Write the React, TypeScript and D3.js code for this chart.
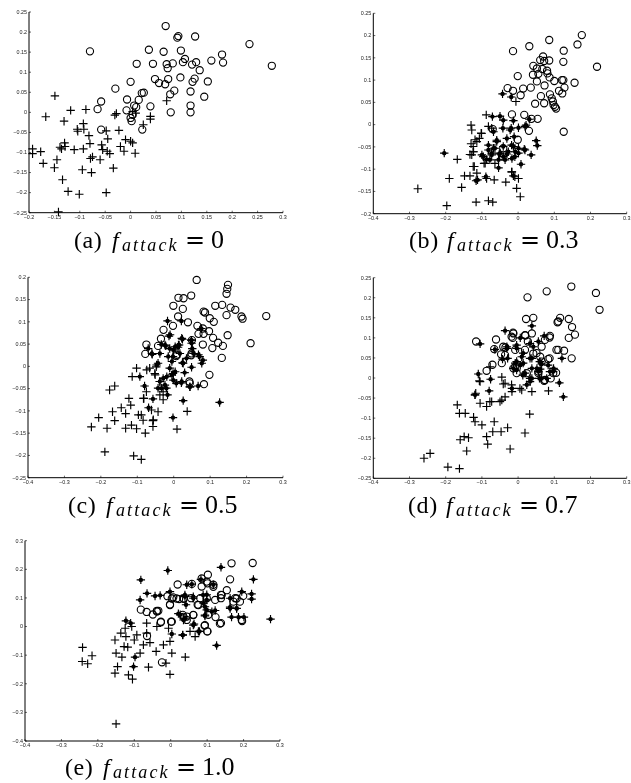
import React from "react";
import * as d3 from "d3";

type P = [number, number];

const aCircles: P[] = [[0.069,0.215],[0.094,0.19],[0.092,0.186],[0.127,0.189],[0.234,0.17],[0.278,0.116],[-0.08,0.152],[0.036,0.156],[0.065,0.151],[0.099,0.154],[0.107,0.133],[0.103,0.125],[0.071,0.12],[0.083,0.122],[0.073,0.11],[0.012,0.121],[0.044,0.121],[0.121,0.119],[0.129,0.125],[0.159,0.129],[0.18,0.144],[0.182,0.124],[0.136,0.105],[0.098,0.087],[0.048,0.083],[0.056,0.073],[0.068,0.07],[0.074,0.083],[0.152,0.077],[0.126,0.084],[0.122,0.076],[0,0.076],[-0.03,0.059],[0.022,0.048],[0.026,0.049],[0.086,0.054],[0.078,0.045],[0.118,0.052],[0.145,0.039],[-0.058,0.027],[-0.065,0.008],[-0.007,0.032],[0.016,0.031],[0.039,0.015],[-0.008,0.005],[0.007,0.017],[0.011,0.013],[0.118,0.017],[0.118,0],[0.079,0],[0,-0.014],[0.002,-0.022],[-0.058,-0.043],[0.023,-0.043],[0.004,-0.006]];
const aPlus: P[] = [[-0.149,0.041],[-0.167,-0.011],[-0.131,-0.022],[-0.118,0.005],[-0.088,0.007],[-0.093,-0.028],[-0.105,-0.042],[-0.092,-0.042],[-0.104,-0.047],[-0.082,-0.058],[-0.13,-0.076],[-0.139,-0.087],[-0.129,-0.085],[-0.136,-0.091],[-0.193,-0.091],[-0.177,-0.098],[-0.193,-0.103],[-0.172,-0.127],[-0.145,-0.118],[-0.15,-0.138],[-0.134,-0.168],[-0.123,-0.197],[-0.101,-0.204],[-0.048,-0.2],[-0.142,-0.248],[-0.111,-0.093],[-0.093,-0.091],[-0.08,-0.078],[-0.095,-0.143],[-0.077,-0.15],[-0.079,-0.115],[-0.075,-0.111],[-0.06,-0.118],[-0.057,-0.081],[-0.055,-0.093],[-0.046,-0.097],[-0.041,-0.103],[-0.048,-0.046],[-0.045,-0.066],[-0.023,-0.045],[-0.034,-0.139],[-0.031,-0.007],[-0.028,-0.003],[-0.02,-0.085],[-0.013,-0.097],[-0.01,-0.068],[0,-0.072],[0.004,-0.076],[0.009,-0.102],[0.025,-0.031],[0.039,-0.01],[0.039,-0.017],[0.071,0.029],[0.004,0.002],[0.01,-0.002]];
const aDotted: P[] = [];

const bCircles: P[] = [[0.176,0.201],[0.164,0.18],[0.086,0.19],[0.031,0.176],[-0.014,0.165],[0.126,0.166],[0.125,0.141],[0.218,0.13],[0.069,0.153],[0.086,0.144],[0.061,0.145],[0.072,0.143],[0.042,0.132],[0.052,0.126],[0.067,0.125],[0.041,0.112],[0.056,0.114],[0.08,0.121],[0.081,0.115],[0.087,0.106],[-0.001,0.109],[0.1,0.098],[0.121,0.1],[0.125,0.1],[0.156,0.094],[0.052,0.097],[0.073,0.088],[-0.029,0.082],[-0.014,0.076],[0.014,0.081],[0.035,0.083],[0.128,0.083],[0.113,0.076],[0.122,0.07],[0.007,0.066],[0.063,0.064],[0.088,0.068],[0.093,0.059],[0.047,0.047],[0.072,0.048],[0.096,0.052],[0.098,0.044],[0.102,0.04],[0.105,0.036],[-0.017,0.023],[0.017,0.022],[0.054,0.013],[0.037,0.013],[-0.07,-0.01],[0.03,-0.014],[0.126,-0.016],[-0.001,-0.034],[-0.041,-0.053]];
const bPlus: P[] = [[-0.277,-0.144],[-0.197,-0.182],[-0.19,-0.121],[-0.168,-0.078],[-0.148,-0.115],[-0.133,-0.115],[-0.156,-0.141],[-0.116,-0.174],[-0.082,-0.171],[-0.07,-0.174],[-0.13,-0.001],[-0.128,-0.012],[-0.119,-0.034],[-0.13,-0.043],[-0.102,-0.019],[-0.123,-0.061],[-0.133,-0.067],[-0.121,-0.094],[-0.114,-0.109],[-0.088,0.022],[-0.082,-0.004],[-0.006,0.052],[0.006,-0.162],[-0.004,-0.143],[-0.034,-0.129],[-0.066,-0.124],[-0.087,-0.121],[-0.107,-0.031],[-0.094,-0.087],[-0.064,-0.087],[-0.017,-0.106],[0.001,-0.121],[-0.101,-0.02],[-0.114,-0.038],[-0.124,-0.049],[-0.124,-0.061],[-0.128,-0.068],[-0.091,-0.087],[-0.124,-0.094],[-0.073,-0.008],[-0.018,-0.106],[-0.009,-0.117]];
const bDotted: P[] = [[-0.043,0.069],[-0.019,0.062],[-0.204,-0.064],[-0.071,0.018],[-0.05,0.019],[-0.041,0.01],[-0.013,0.009],[-0.042,-0.008],[-0.019,-0.008],[0.001,-0.007],[0.019,-0.004],[0.031,0.012],[-0.068,-0.016],[-0.031,-0.031],[0.05,-0.036],[0.053,-0.047],[-0.082,-0.046],[-0.059,-0.038],[-0.068,-0.053],[-0.1,-0.068],[-0.087,-0.078],[-0.073,-0.064],[-0.052,-0.066],[-0.041,-0.072],[-0.054,-0.097],[-0.031,-0.066],[-0.013,-0.049],[-0.008,-0.061],[-0.017,-0.076],[0.001,-0.064],[0.017,-0.055],[0.036,-0.068],[0.008,-0.089],[-0.013,-0.115],[-0.112,-0.124],[-0.116,-0.126],[-0.054,-0.079],[-0.089,-0.117],[-0.022,-0.012],[0.022,-0.001],[-0.059,-0.035],[-0.011,-0.027],[-0.082,-0.057],[-0.064,-0.053],[-0.041,-0.049],[-0.018,-0.046],[0.001,-0.053],[-0.096,-0.072],[-0.073,-0.068],[-0.05,-0.064],[-0.027,-0.061],[-0.009,-0.072],[0.019,-0.057],[-0.036,-0.079],[-0.078,-0.079]];

const cCircles: P[] = [[0.063,0.194],[0.149,0.183],[0.147,0.174],[0.145,0.163],[0.048,0.159],[0.013,0.154],[0.027,0.153],[-0.001,0.136],[0.025,0.129],[0.114,0.136],[0.133,0.138],[0.156,0.132],[0.169,0.127],[0.145,0.115],[0.254,0.113],[0.082,0.123],[0.086,0.121],[0.099,0.108],[0.11,0.1],[0.012,0.112],[0.039,0.099],[-0.028,0.082],[-0.002,0.091],[0.065,0.091],[0.08,0.085],[0.097,0.079],[0.068,0.073],[0.082,0.073],[0.148,0.07],[-0.035,0.062],[0.108,0.064],[0.122,0.053],[0.135,0.046],[0.211,0.052],[0.106,0.041],[0.132,0.019],[-0.043,0.046],[-0.075,0.049],[-0.078,0.028],[0.05,0.059],[0.08,0.049],[0.048,0.025],[0.007,0.023],[0.098,-0.019],[0.083,-0.04],[0.044,-0.038],[0.186,0.112],[0.189,0.107],[0.008,0.026],[0.049,0.029],[0.043,-0.034]];
const cPlus: P[] = [[-0.226,-0.136],[-0.206,-0.115],[-0.183,-0.139],[-0.168,-0.102],[-0.162,-0.122],[-0.189,-0.192],[-0.11,-0.201],[-0.089,-0.209],[-0.176,-0.053],[-0.162,-0.044],[-0.144,-0.093],[-0.132,-0.106],[-0.123,-0.072],[-0.118,-0.087],[-0.132,-0.139],[-0.116,-0.132],[-0.102,-0.14],[-0.082,-0.072],[-0.078,-0.15],[-0.057,-0.135],[-0.057,-0.122],[-0.043,-0.102],[0.009,-0.141],[0.037,-0.101],[-0.102,-0.004],[-0.114,-0.023],[-0.066,-0.004],[-0.052,-0.016],[-0.038,-0.034],[-0.029,-0.057],[-0.089,-0.109],[-0.061,-0.098],[-0.084,-0.121],[-0.075,-0.057],[-0.048,-0.001],[-0.074,-0.008],[-0.051,-0.019],[-0.083,-0.072],[-0.038,-0.064],[-0.029,-0.075],[-0.056,-0.12],[-0.097,-0.109]];
const cDotted: P[] = [[-0.017,0.102],[0.021,0.102],[-0.013,0.068],[-0.07,0.04],[-0.059,0.027],[-0.034,0.049],[-0.022,0.046],[-0.038,0.029],[-0.043,0.007],[-0.093,-0.023],[-0.08,-0.044],[-0.057,-0.073],[-0.069,-0.093],[-0.029,-0.027],[-0.011,-0.004],[-0.002,0.022],[-0.011,0.04],[0.012,0.043],[0.024,0.061],[0.048,0.059],[0.076,0.085],[0.051,0.04],[0.071,0.022],[0.08,0.014],[0.024,0.008],[0.049,-0.002],[0.03,-0.014],[-0.002,-0.016],[0.021,-0.037],[0.044,-0.046],[0.067,-0.044],[-0.02,-0.049],[-0.043,-0.049],[-0.017,-0.064],[0.026,-0.077],[-0.002,-0.115],[0.126,-0.081],[0.007,-0.038],[0.015,0.048],[0.035,0.018],[0.013,0.048],[-0.001,0.037],[-0.015,0.022],[-0.005,0.011],[0.004,0.044],[0.017,0.029],[0.049,0.052],[0.054,0.029],[0.077,0.007],[0.026,0.007],[-0.019,-0.023],[-0.005,-0.019],[-0.038,-0.034],[-0.024,-0.042],[-0.001,-0.031],[0.022,-0.034],[0.045,-0.046],[-0.033,-0.049],[-0.047,0.003],[-0.06,0.029],[-0.024,0.048],[-0.01,0.071],[0.022,0.063],[0.049,0.059],[0.004,-0.012],[0.068,0.026]];

const dCircles: P[] = [[0.147,0.228],[0.079,0.216],[0.215,0.212],[0.026,0.201],[0.225,0.17],[0.022,0.147],[0.042,0.15],[0.116,0.15],[0.14,0.147],[0.111,0.141],[0.109,0.139],[0.149,0.127],[0.157,0.108],[0.14,0.1],[-0.014,0.113],[-0.015,0.1],[0.02,0.106],[0.027,0.091],[0.087,0.101],[-0.116,0.091],[-0.061,0.096],[-0.035,0.076],[-0.047,0.059],[-0.071,0.033],[-0.066,0.072],[0.106,0.07],[0.111,0.07],[0.127,0.068],[0.148,0.049],[0.087,0.049],[-0.087,0.018],[-0.004,0.012],[0.042,0.061],[0.061,0.053],[-0.008,0.028],[0.024,0.012],[0.072,-0.007],[0.09,-0.001],[0.105,0.013],[0.056,0.012],[0.065,0.078],[-0.008,0.07],[0.019,0.07],[-0.041,0.078],[-0.036,0.057],[-0.045,0.037],[-0.013,0.024],[0.051,0.062],[0.065,0.041],[0.083,0.047],[0.056,0.016],[0.074,-0.005],[0.097,0.012],[0.038,0.111],[-0.013,0.111],[-0.018,0.103],[0.074,0.095],[0.088,0.105],[0.019,0.107]];
const dPlus: P[] = [[-0.26,-0.2],[-0.243,-0.188],[-0.194,-0.222],[-0.162,-0.226],[-0.168,-0.067],[-0.162,-0.088],[-0.146,-0.088],[-0.16,-0.154],[-0.149,-0.146],[-0.137,-0.149],[-0.142,-0.182],[-0.123,-0.098],[-0.119,-0.109],[-0.1,-0.117],[-0.117,-0.038],[-0.107,-0.007],[-0.087,-0.146],[-0.084,-0.165],[-0.066,-0.109],[-0.07,-0.134],[-0.047,-0.134],[-0.029,-0.124],[-0.022,-0.177],[0.019,-0.137],[0.032,-0.09],[-0.045,0.002],[-0.041,-0.015],[-0.105,-0.063],[-0.087,-0.071],[-0.073,-0.059],[-0.05,-0.059],[-0.036,-0.047],[-0.017,-0.034],[0.01,-0.03],[0.038,-0.034],[0.084,-0.032],[-0.077,0.028],[-0.036,-0.013],[-0.018,-0.017],[0.005,-0.026],[-0.045,-0.055],[-0.078,-0.059],[-0.119,-0.042],[-0.105,-0.009]];
const dDotted: P[] = [[-0.105,0.085],[-0.11,0.01],[-0.076,-0.003],[-0.08,-0.032],[-0.119,-0.042],[-0.036,0.118],[0.038,0.13],[0.072,0.105],[-0.031,0.078],[-0.004,0.074],[-0.064,0.071],[-0.043,0.047],[-0.029,0.049],[0.01,0.053],[0.033,0.049],[-0.008,0.037],[-0.013,0.024],[0.013,0.007],[0.033,-0.009],[0.024,-0.017],[-0.017,-0.026],[0.059,-0.001],[0.065,0.035],[0.098,0.024],[0.052,0.024],[0.125,-0.047],[0.114,-0.012],[0.121,0.049],[0.056,0.091],[0.006,0.1],[0.033,0.086],[0.079,-0.001],[0.006,0.032],[0.038,-0.001],[0.061,0.022],[0.088,0.016],[-0.004,0.041],[0.014,0.037],[0.038,0.049],[0.06,0.041],[-0.004,0.02],[0.019,0.012],[0.038,0.024],[0.056,0.016],[0.083,0.032],[0.097,0.016],[0.033,-0.001],[0.065,-0.001],[0.014,0.062],[0.042,0.078],[-0.031,0.074],[-0.004,0.082]];

const eCircles: P[] = [[0.167,0.221],[0.225,0.222],[0.102,0.181],[0.163,0.165],[0.019,0.147],[0.085,0.14],[0.117,0.146],[0.101,0.151],[0.154,0.127],[0.138,0.111],[0.138,0.099],[0.199,0.107],[-0.009,0.106],[0.007,0.102],[0.023,0.096],[0.036,0.097],[0.056,0.099],[-0.002,0.077],[0.074,0.076],[0.099,0.099],[0.122,0.093],[0.172,0.087],[-0.082,0.059],[-0.066,0.051],[-0.049,0.042],[-0.038,0.055],[-0.034,0.055],[-0.027,0.015],[0.001,0.017],[0.062,0.041],[0.044,0.035],[0.033,0.041],[0.123,0.033],[0.138,0.012],[0.196,0.019],[0.093,0.003],[0.101,-0.017],[-0.065,-0.033],[-0.024,-0.125],[0.177,0.099],[0.081,0.099],[0.103,0.041],[0.058,0.149],[0.085,0.168],[0.099,0.157],[0.117,0.139],[0.14,0.11],[-0.002,0.075],[0.003,0.098],[0.016,0.098],[0.035,0.098],[0.076,0.075],[0.094,0.005],[0.062,0.04],[0.035,0.034],[0.044,0.023],[0.135,0.01],[0.1,-0.017],[-0.038,0.052],[-0.027,0.017],[0.003,0.017],[0.195,0.023],[0.181,0.098],[0.19,0.087]];
const ePlus: P[] = [[-0.242,-0.073],[-0.243,-0.122],[-0.228,-0.13],[-0.216,-0.102],[-0.15,-0.34],[-0.153,-0.163],[-0.146,-0.14],[-0.15,-0.093],[-0.153,-0.047],[-0.137,-0.023],[-0.125,-0.006],[-0.123,-0.035],[-0.128,-0.07],[-0.118,-0.072],[-0.134,-0.107],[-0.107,0],[-0.1,-0.047],[-0.116,-0.169],[-0.105,-0.184],[-0.084,-0.093],[-0.061,-0.142],[-0.066,0.012],[-0.066,-0.023],[-0.038,0],[-0.075,-0.064],[-0.057,-0.056],[-0.04,-0.087],[-0.02,-0.064],[-0.006,-0.006],[-0.002,-0.052],[0.003,-0.093],[-0.013,-0.128],[-0.002,-0.167],[0.04,-0.107],[0.067,-0.035],[0.053,-0.017],[-0.093,-0.029]];
const eDotted: P[] = [[-0.082,0.163],[-0.008,0.196],[0.138,0.207],[0.227,0.165],[0.274,0.026],[-0.084,0.093],[-0.065,0.116],[-0.029,0.109],[-0.002,0.122],[-0.123,0.02],[-0.11,0.012],[-0.098,-0.107],[-0.102,-0.14],[0.003,-0.026],[0.033,-0.029],[0.126,-0.066],[0.079,-0.017],[0.064,0.009],[0.035,0.023],[0.026,0.041],[0.044,0.146],[0.058,0.148],[0.083,0.165],[0.039,0.105],[0.062,0.099],[0.099,0.111],[0.117,0.146],[0.195,0.122],[0.222,0.114],[0.222,0.096],[0.163,0.068],[0.181,0.064],[0.167,0.033],[0.186,0.033],[0.201,0.033],[0.099,0.058],[0.122,0.056],[0.094,0.037],[0.163,0.099],[0.09,0.082],[0.042,0.076],[-0.043,0.107],[0.039,0.11],[0.062,0.104],[0.089,0.11],[0.099,0.093],[0.094,0.069],[0.113,0.052],[0.094,0.04],[0.021,0.045],[0.039,0.029],[0.062,0.005],[0.076,-0.017],[0.033,-0.03],[0.163,0.063],[0.181,0.063]];

const letters = ["a", "b", "c", "d", "e"];
const fractions = ["0", "0.3", "0.5", "0.7", "1.0"];
const xDomains: P[] = [[-0.2, 0.3], [-0.4, 0.3], [-0.4, 0.3], [-0.4, 0.3], [-0.4, 0.3]];
const yDomains: P[] = [[-0.25, 0.25], [-0.2, 0.25], [-0.25, 0.2], [-0.25, 0.25], [-0.4, 0.3]];
const xSteps = [0.05, 0.1, 0.1, 0.1, 0.1];
const ySteps = [0.05, 0.05, 0.05, 0.05, 0.1];
const circleSets = [aCircles, bCircles, cCircles, dCircles, eCircles];
const plusSets = [aPlus, bPlus, cPlus, dPlus, ePlus];
const dottedSets = [aDotted, bDotted, cDotted, dDotted, eDotted];

const frames = [
  { l: 29, r: 283, t: 12, b: 212.7, cx: 74, cy: 248 },
  { l: 373.3, r: 626.7, t: 13.3, b: 213.7, cx: 409, cy: 248 },
  { l: 28, r: 283, t: 277.3, b: 477.7, cx: 68, cy: 513 },
  { l: 373.3, r: 626.7, t: 277.7, b: 478.3, cx: 408, cy: 513 },
  { l: 25, r: 280, t: 540.7, b: 741, cx: 65, cy: 775 },
];

const stepTicks = (d: P, s: number) => {
  const n = Math.round((d[1] - d[0]) / s);
  return d3.range(n + 1).map((i) => +(d[0] + i * s).toFixed(3));
};
const fmt = (v: number) => (v === 0 ? "0" : (v < 0 ? "\u2212" : "") + String(Math.abs(v)));

function Panel({ i }: { i: number }) {
  const f = frames[i];
  const x = d3.scaleLinear().domain(xDomains[i]).range([f.l, f.r]);
  const y = d3.scaleLinear().domain(yDomains[i]).range([f.b, f.t]);
  const plusPath = (p: P) => {
    const px = x(p[0]), py = y(p[1]);
    return `M${px - 4.2},${py}H${px + 4.2}M${px},${py - 4.2}V${py + 4.2}`;
  };
  const serif = "'Liberation Serif', serif";
  return (
    <g>
      <path d={`M${f.l},${f.t}V${f.b}H${f.r}`} fill="none" stroke="#000" strokeWidth={1} />
      {stepTicks(xDomains[i], xSteps[i]).map((v) => (
        <g key={v}>
          <line x1={x(v)} x2={x(v)} y1={f.b} y2={f.b - 2} stroke="#000" strokeWidth={0.6} />
          <text x={x(v)} y={f.b + 6} fontSize={5.4} textAnchor="middle" fill="#222">{fmt(v)}</text>
        </g>
      ))}
      {stepTicks(yDomains[i], ySteps[i]).map((v) => (
        <g key={v}>
          <line x1={f.l} x2={f.l + 2} y1={y(v)} y2={y(v)} stroke="#000" strokeWidth={0.6} />
          <text x={f.l - 2} y={y(v) + 1.8} fontSize={5.4} textAnchor="end" fill="#222">{fmt(v)}</text>
        </g>
      ))}
      {circleSets[i].map((p, k) => (
        <circle key={k} cx={x(p[0])} cy={y(p[1])} r={3.6} fill="none" stroke="#000" strokeWidth={1.1} />
      ))}
      {plusSets[i].map((p, k) => (
        <path key={k} d={plusPath(p)} fill="none" stroke="#000" strokeWidth={1.15} />
      ))}
      {dottedSets[i].map((p, k) => (
        <g key={k}>
          <path d={plusPath(p)} fill="none" stroke="#000" strokeWidth={1.15} />
          <circle cx={x(p[0])} cy={y(p[1])} r={2.2} fill="#000" />
        </g>
      ))}
      <g fontFamily={serif} fill="#000">
        <text x={f.cx} y={f.cy} fontSize={24} letterSpacing={0.6}>{`(${letters[i]})`}</text>
        <text x={f.cx + 38} y={f.cy} fontSize={24} fontStyle="italic">f</text>
        <text x={f.cx + 48} y={f.cy + 3} fontSize={18} letterSpacing={2.1} fontStyle="italic">attack</text>
        <text x={f.cx + 111} y={f.cy} fontSize={24} fontFamily="'DejaVu Serif', serif">=</text>
        <text x={f.cx + 137} y={f.cy} fontSize={26}>{fractions[i]}</text>
      </g>
    </g>
  );
}

export default function App() {
  return (
    <svg
      width={631}
      height={783}
      viewBox="0 0 631 783"
      style={{ position: "absolute", left: 0, top: 0, background: "#fff" }}
      fontFamily="'Liberation Sans', Arial, sans-serif"
    >
      <defs>
        <filter id="soft" x="0" y="0" width="100%" height="100%">
          <feGaussianBlur stdDeviation={0.4} />
        </filter>
      </defs>
      <rect width={631} height={783} fill="#fff" />
      <g filter="url(#soft)">
        {letters.map((_, i) => (
          <Panel key={i} i={i} />
        ))}
      </g>
    </svg>
  );
}
